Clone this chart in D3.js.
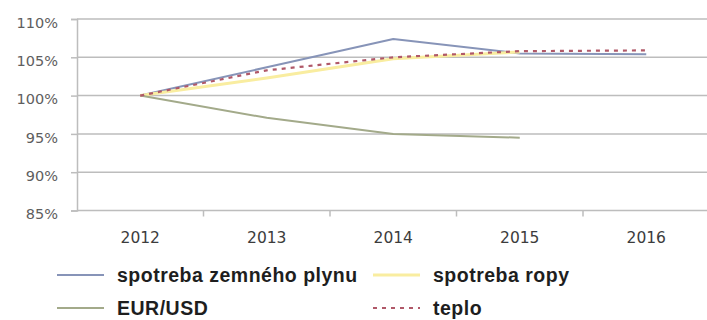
<!DOCTYPE html>
<html>
<head>
<meta charset="utf-8">
<script src="https://cdn.jsdelivr.net/npm/d3@7"></script>
<style>
  body { margin: 0; background: #fff; }
  svg { display: block; }
</style>
</head>
<body>
<script>
// values (index, 2012 = 100 %)
var years = ["2012", "2013", "2014", "2015", "2016"];
var plyn = [100, 103.7, 107.4, 105.5, 105.4];
var ropa = [100, 102.3, 104.8, 105.7, null];
var eurUsd = [100, 97.1, 95.0, 94.5, null];
var teplo = [100, 103.3, 105.0, 105.8, 105.9];
var yTicks = [85, 90, 95, 100, 105, 110];

var series = [
  {name: "spotreba zemného plynu", values: plyn, color: "#8794b8", width: 2, dash: null},
  {name: "spotreba ropy", values: ropa, color: "#f9eda0", width: 3, dash: null},
  {name: "EUR/USD", values: eurUsd, color: "#a3aa8a", width: 2, dash: null},
  {name: "teplo", values: teplo, color: "#b05868", width: 2.2, dash: "4,5"}
];

var w = 707, h = 320;
var svg = d3.select("body").append("svg")
    .attr("width", w)
    .attr("height", h);

// ************** scales *****************
var x = d3.scaleBand().domain(years).range([77, 709.5]);
var y = d3.scaleLinear().domain([85, 110]).range([210.5, 19]);

// gridlines
svg.append("g").selectAll("line")
    .data(yTicks)
    .enter().append("line")
    .attr("x1", 77).attr("x2", 709.5)
    .attr("y1", function(d) { return y(d); })
    .attr("y2", function(d) { return y(d); })
    .attr("stroke", "#bdbdbd")
    .attr("stroke-width", 1.5);

// y axis
var yAxis = svg.append("g")
    .attr("transform", "translate(77,0)")
    .call(d3.axisLeft(y).tickValues(yTicks).tickSize(6).tickPadding(13)
      .tickFormat(function(d) { return d + "%"; }));
yAxis.select(".domain").attr("stroke", "#bdbdbd").attr("stroke-width", 1.5);
yAxis.selectAll(".tick line").attr("stroke", "#bdbdbd").attr("stroke-width", 1.5);
yAxis.selectAll("text")
    .attr("dy", "0.57em")
    .attr("fill", "#5e5e5e")
    .style("font-family", "DejaVu Sans")
    .style("font-size", "14.5px");

// x axis: labels in the middle of each band, ticks between them
var xAxis = svg.append("g")
    .attr("transform", "translate(0," + y(85) + ")")
    .call(d3.axisBottom(x).tickSize(0));
xAxis.select(".domain").remove();
xAxis.selectAll("text")
    .attr("y", 32).attr("dy", 0)
    .attr("fill", "#3c3c3c")
    .style("font-family", "DejaVu Sans")
    .style("font-size", "15.5px");
svg.append("g").selectAll("line")
    .data(years.slice(1))
    .enter().append("line")
    .attr("x1", function(d) { return x(d); })
    .attr("x2", function(d) { return x(d); })
    .attr("y1", y(85)).attr("y2", y(85) + 6)
    .attr("stroke", "#bdbdbd")
    .attr("stroke-width", 1.5);

// lines
var line = d3.line()
    .defined(function(d) { return d != null; })
    .x(function(d, i) { return x(years[i]) + x.bandwidth() / 2; })
    .y(function(d) { return y(d); });

svg.append("g").selectAll("path")
    .data(series)
    .enter().append("path")
    .attr("d", function(s) { return line(s.values); })
    .attr("fill", "none")
    .attr("stroke", function(s) { return s.color; })
    .attr("stroke-width", function(s) { return s.width; })
    .attr("stroke-dasharray", function(s) { return s.dash; })
    .attr("stroke-linejoin", "round");

// legend, two columns
var legPos = [[57, 275], [373, 275], [57, 308], [373, 308]];
var leg = svg.append("g").selectAll("g")
    .data(series)
    .enter().append("g")
    .attr("transform", function(s, i) { return "translate(" + legPos[i][0] + "," + legPos[i][1] + ")"; });
leg.append("line")
    .attr("x1", 0).attr("x2", 47)
    .attr("stroke", function(s) { return s.color; })
    .attr("stroke-width", function(s) { return s.width; })
    .attr("stroke-dasharray", function(s) { return s.dash; });
leg.append("text")
    .attr("x", 60).attr("y", 7)
    .attr("fill", "#1e1e1e")
    .style("font-family", "Liberation Sans")
    .style("font-weight", "bold")
    .style("font-size", "19.5px")
    .style("letter-spacing", "0.5px")
    .text(function(s) { return s.name; });
</script>
</body>
</html>
